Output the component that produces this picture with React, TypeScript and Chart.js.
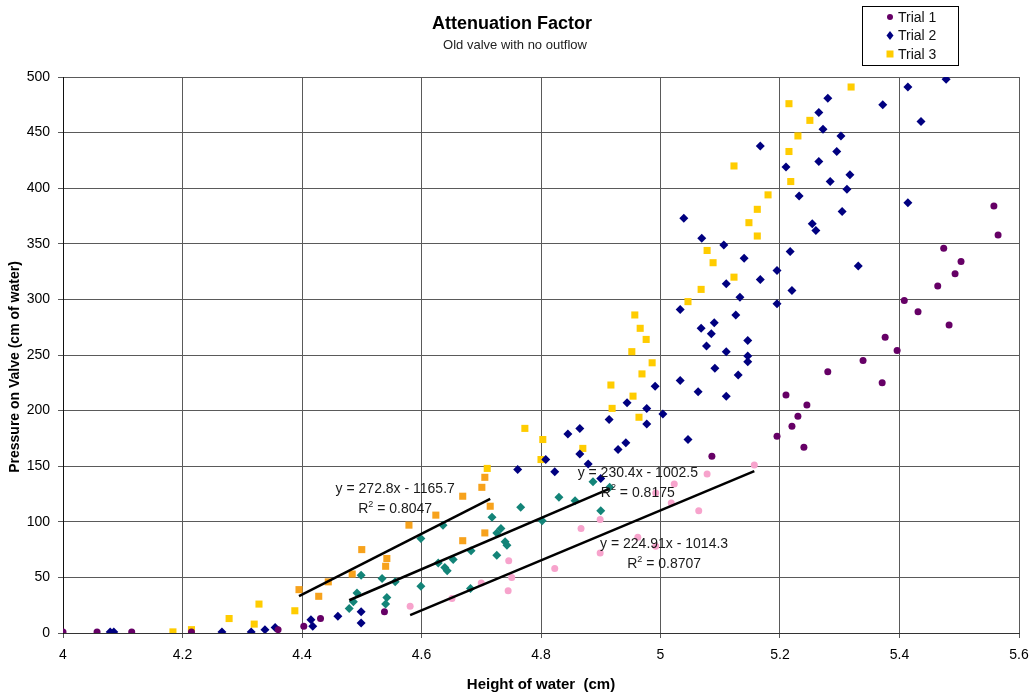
import { useEffect, useRef } from "react";
import { Chart, registerables } from "chart.js";

Chart.register(...registerables);

const FONT = "Arial, 'Liberation Sans', sans-serif";

// Trial 1: points outside the fit, then the points used for the trendline
const trial1X = [4.0, 4.057, 4.115, 4.215, 4.36, 4.403, 4.431, 4.538, 5.086, 5.195, 5.21, 5.22, 5.23, 5.24, 5.245, 5.28, 5.339, 5.371, 5.376, 5.396, 5.408, 5.431, 5.464, 5.474, 5.483, 5.493, 5.503, 5.558, 5.565];
const trial1Y = [1, 1, 1, 1, 3, 6, 13, 19, 159, 177, 214, 186, 195, 167, 205, 235, 245, 225, 266, 254, 299, 289, 312, 346, 277, 323, 334, 384, 358];
const trial1FitX = [4.581, 4.651, 4.7, 4.745, 4.746, 4.751, 4.823, 4.867, 4.899, 4.899, 4.962, 4.992, 4.992, 5.018, 5.023, 5.064, 5.078, 5.157];
const trial1FitY = [24, 31, 45, 38, 65, 50, 58, 94, 72, 102, 86, 78, 126, 117, 134, 110, 143, 151];

// Trial 2
const trial2X = [4.079, 4.085, 4.266, 4.315, 4.338, 4.355, 4.415, 4.418, 4.46, 4.499, 4.499, 4.761, 4.808, 4.823, 4.845, 4.865, 4.865, 4.879, 4.9, 4.914, 4.929, 4.942, 4.944, 4.977, 4.977, 4.991, 5.004, 5.033, 5.046, 5.063, 5.11, 5.13, 5.091, 5.146, 5.146, 5.146, 5.11, 5.077, 5.085, 5.068, 5.09, 5.126, 5.033, 5.195, 5.133, 5.22, 5.11, 5.167, 5.195, 5.331, 5.14, 5.217, 5.106, 5.069, 5.26, 5.254, 5.039, 5.304, 5.414, 5.232, 5.312, 5.284, 5.317, 5.21, 5.265, 5.295, 5.167, 5.302, 5.272, 5.436, 5.265, 5.372, 5.28, 5.414, 5.478];
const trial2Y = [1, 1, 1, 1, 3, 5, 12, 6, 15, 19, 9, 147, 156, 145, 179, 184, 161, 152, 139, 192, 165, 171, 207, 202, 188, 222, 197, 227, 174, 217, 213, 232, 238, 244, 249, 263, 253, 258, 269, 274, 279, 286, 291, 296, 302, 308, 314, 318, 326, 330, 337, 343, 349, 355, 362, 368, 373, 379, 387, 393, 399, 406, 412, 419, 424, 433, 438, 447, 453, 460, 468, 475, 481, 491, 498];
const trial2FitX = [4.479, 4.486, 4.492, 4.499, 4.534, 4.54, 4.542, 4.556, 4.599, 4.599, 4.628, 4.636, 4.639, 4.643, 4.653, 4.682, 4.683, 4.718, 4.726, 4.726, 4.733, 4.74, 4.743, 4.766, 4.802, 4.83, 4.857, 4.887, 4.9, 4.915];
const trial2FitY = [22, 28, 36, 52, 49, 26, 32, 46, 85, 42, 63, 97, 59, 56, 66, 40, 74, 104, 90, 70, 94, 82, 79, 113, 101, 122, 119, 136, 110, 131];

// Trial 3
const trial3X = [4.184, 4.215, 4.278, 4.32, 4.328, 4.388, 4.71, 4.773, 4.8, 4.803, 4.87, 4.917, 4.919, 4.952, 4.954, 4.957, 4.964, 4.966, 4.969, 4.976, 4.986, 5.046, 5.068, 5.078, 5.088, 5.123, 5.123, 5.148, 5.162, 5.162, 5.18, 5.215, 5.215, 5.218, 5.23, 5.25, 5.319];
const trial3Y = [1, 3, 13, 8, 26, 20, 148, 184, 156, 174, 166, 223, 202, 253, 213, 286, 194, 274, 233, 264, 243, 298, 309, 344, 333, 320, 420, 369, 357, 381, 394, 433, 476, 406, 447, 461, 491];
const trial3FitX = [4.395, 4.428, 4.444, 4.484, 4.5, 4.54, 4.542, 4.579, 4.624, 4.669, 4.669, 4.701, 4.706, 4.706, 4.715];
const trial3FitY = [39, 33, 46, 53, 75, 60, 67, 97, 106, 123, 83, 131, 140, 90, 114];

// trendline equations as printed on the chart (trial 1, 2, 3)
const FIT_SLOPES = [224.91, 230.4, 272.8];
const FIT_INTERCEPTS = [-1014.3, -1002.5, -1165.7];
const FIT_EQUATIONS = ["y = 224.91x - 1014.3", "y = 230.4x - 1002.5", "y = 272.8x - 1165.7"];
const FIT_R2 = ["0.8707", "0.8175", "0.8047"];

const SERIES_NAMES = ["Trial 1", "Trial 2", "Trial 3"];
const X_TICKS_MIN = 4;
const X_TICKS_MAX = 5.6;
const Y_TICKS_MAX = 500;

const COLORS = {
  t1: "#660066",
  t1fit: "#f7a3cc",
  t2: "#000080",
  t2fit: "#138478",
  t3: "#ffcc00",
  t3fit: "#f7a21c",
};

// where each equation label sits (data coords of its centre)
const LABEL_ANCHORS = [
  { x: 5.006, y: 80 },
  { x: 4.962, y: 144 },
  { x: 4.556, y: 129 },
];

const toPts = (xs: number[], ys: number[]) => xs.map((x, i) => ({ x, y: ys[i] }));

function fitLine(xs: number[], i: number) {
  const lo = Math.min(...xs);
  const hi = Math.max(...xs);
  return [
    { x: lo, y: FIT_SLOPES[i] * lo + FIT_INTERCEPTS[i] },
    { x: hi, y: FIT_SLOPES[i] * hi + FIT_INTERCEPTS[i] },
  ];
}

function drawMarker(ctx: CanvasRenderingContext2D, kind: number, x: number, y: number, color: string) {
  ctx.fillStyle = color;
  ctx.beginPath();
  if (kind === 0) {
    ctx.arc(x, y, 3, 0, Math.PI * 2);
  } else if (kind === 1) {
    ctx.moveTo(x, y - 4.5);
    ctx.lineTo(x + 3.5, y);
    ctx.lineTo(x, y + 4.5);
    ctx.lineTo(x - 3.5, y);
    ctx.closePath();
  } else {
    ctx.rect(x - 3.5, y - 3.5, 7, 7);
  }
  ctx.fill();
}

const decorPlugin = {
  id: "decor",
  afterDraw(chart: Chart) {
    const { ctx, scales } = chart;
    ctx.save();
    ctx.fillStyle = "#000";
    ctx.textAlign = "center";
    ctx.textBaseline = "middle";

    ctx.font = `bold 18px ${FONT}`;
    ctx.fillText("Attenuation Factor", 512, 24);
    ctx.font = `13px ${FONT}`;
    ctx.fillStyle = "#222";
    ctx.fillText("Old valve with no outflow", 515, 45);

    // y axis title
    ctx.save();
    ctx.translate(15, 367);
    ctx.rotate(-Math.PI / 2);
    ctx.fillStyle = "#000";
    ctx.font = `bold 14px ${FONT}`;
    ctx.fillText("Pressure on Valve (cm of water)", 0, 0);
    ctx.restore();

    // equation labels
    ctx.font = `14px ${FONT}`;
    ctx.fillStyle = "#1a1a1a";
    LABEL_ANCHORS.forEach((a, i) => {
      const px = scales.x.getPixelForValue(a.x);
      const py = scales.y.getPixelForValue(a.y);
      ctx.textAlign = "center";
      ctx.fillText(FIT_EQUATIONS[i], px, py);
      const r2 = "R";
      const rest = " = " + FIT_R2[i];
      const wR = ctx.measureText(r2).width;
      ctx.font = `9px ${FONT}`;
      const wSup = ctx.measureText("2").width;
      ctx.font = `14px ${FONT}`;
      const wRest = ctx.measureText(rest).width;
      const total = wR + wSup + wRest;
      let sx = px - total / 2;
      ctx.textAlign = "left";
      ctx.fillText(r2, sx, py + 20);
      sx += wR;
      ctx.font = `9px ${FONT}`;
      ctx.fillText("2", sx, py + 15);
      sx += wSup;
      ctx.font = `14px ${FONT}`;
      ctx.fillText(rest, sx, py + 20);
    });

    // legend
    ctx.strokeStyle = "#000";
    ctx.lineWidth = 1;
    ctx.strokeRect(862.5, 6.5, 96, 59);
    ctx.textAlign = "left";
    ctx.font = `14px ${FONT}`;
    const legendColors = [COLORS.t1, COLORS.t2, COLORS.t3];
    SERIES_NAMES.forEach((name, i) => {
      const y = 17 + i * 18.5;
      drawMarker(ctx, i, 890, y, legendColors[i]);
      ctx.fillStyle = "#111";
      ctx.fillText(name, 898, y + 1);
    });
    ctx.restore();
  },
};

export default function App() {
  const canvasRef = useRef<HTMLCanvasElement>(null);

  useEffect(() => {
    if (!canvasRef.current) return;
    const ctx = canvasRef.current.getContext("2d");
    if (!ctx) return;

    const scatter = (label: string, xs: number[], ys: number[], color: string, style: string, r: number) => ({
      type: "scatter" as const,
      label,
      data: toPts(xs, ys),
      pointStyle: style,
      pointRadius: r,
      pointHoverRadius: r,
      pointBackgroundColor: color,
      pointBorderColor: color,
      pointBorderWidth: 0,
      showLine: false,
      order: 2,
    });

    const trend = (xs: number[], i: number) => ({
      type: "line" as const,
      label: `fit ${i + 1}`,
      data: fitLine(xs, i),
      borderColor: "#000",
      borderWidth: 2.5,
      pointRadius: 0,
      fill: false,
      order: 0,
    });

    const chart = new Chart(ctx, {
      type: "scatter",
      data: {
        datasets: [
          trend(trial1FitX, 0),
          trend(trial2FitX, 1),
          trend(trial3FitX, 2),
          scatter("Trial 1 fit", trial1FitX, trial1FitY, COLORS.t1fit, "circle", 3.5),
          scatter("Trial 2 fit", trial2FitX, trial2FitY, COLORS.t2fit, "rectRot", 4.5),
          scatter("Trial 3 fit", trial3FitX, trial3FitY, COLORS.t3fit, "rect", 5),
          scatter(SERIES_NAMES[0], trial1X, trial1Y, COLORS.t1, "circle", 3.5),
          scatter(SERIES_NAMES[1], trial2X, trial2Y, COLORS.t2, "rectRot", 4.5),
          scatter(SERIES_NAMES[2], trial3X, trial3Y, COLORS.t3, "rect", 5),
        ] as any,
      },
      options: {
        responsive: true,
        maintainAspectRatio: false,
        animation: false,
        layout: { padding: { top: 77, right: 15, left: 0, bottom: 0 } },
        plugins: { legend: { display: false }, tooltip: { enabled: false } },
        scales: {
          x: {
            type: "linear",
            min: X_TICKS_MIN,
            max: X_TICKS_MAX,
            afterFit: (s: any) => {
              s.height = 63;
              s.paddingRight = 0;
            },
            ticks: {
              stepSize: 0.2,
              color: "#000",
              font: { family: FONT, size: 14 },
              padding: 9,
              maxRotation: 0,
              callback: (v: any) => String(Number(Number(v).toFixed(1))),
            },
            grid: { color: "#5a5a5a", lineWidth: 1, tickLength: 5 },
            border: { color: "#333" },
            title: {
              display: true,
              text: "Height of water  (cm)",
              color: "#000",
              font: { family: FONT, size: 15, weight: "bold" },
              padding: { top: 0, bottom: 2 },
            },
          },
          y: {
            min: 0,
            max: Y_TICKS_MAX,
            afterFit: (s: any) => {
              s.width = 63;
            },
            ticks: {
              stepSize: 50,
              color: "#000",
              font: { family: FONT, size: 14 },
              padding: 8,
            },
            grid: { color: "#5a5a5a", lineWidth: 1, tickLength: 5 },
            border: { color: "#111" },
          },
        },
      },
      plugins: [decorPlugin],
    });

    return () => chart.destroy();
  }, []);

  return (
    <div style={{ position: "fixed", inset: 0, width: 1034, height: 696, background: "#fff" }}>
      <canvas ref={canvasRef} />
    </div>
  );
}
